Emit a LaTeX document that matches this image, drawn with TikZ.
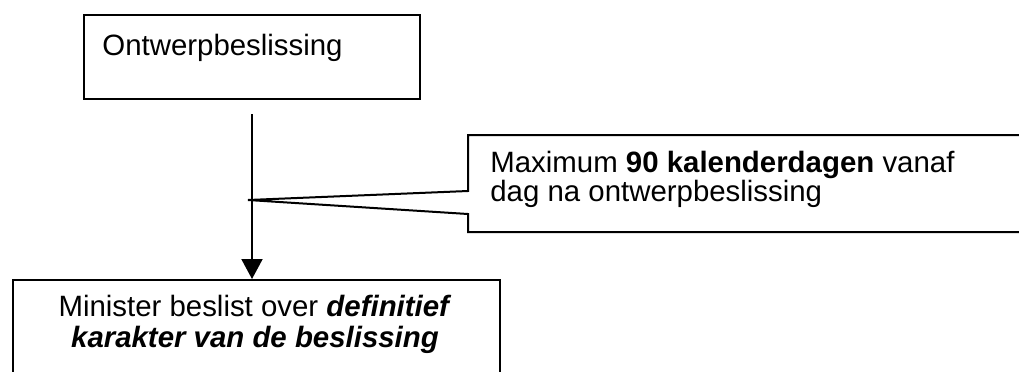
\documentclass[tikz,border=0pt]{standalone}
\usepackage{fontspec}
\setmainfont{Liberation Sans}
\usetikzlibrary{arrows.meta}
\tikzset{
  box/.style={draw, line width=1pt, inner sep=0pt},
  txt/.style={inner sep=0pt},
  flow/.style={line width=1pt, -{Triangle[length=10pt,width=10.5pt]}, shorten <=7pt}
}
\begin{document}
\begin{tikzpicture}[x=0.5pt,y=-0.5pt]
\useasboundingbox (0,0) rectangle (1019,371);
\clip (0,0) rectangle (1019,371);
{\fontsize{14.7}{15}\selectfont

% Drawing box Ontwerpbeslissing
\node[box, anchor=north west, minimum width=168pt, minimum height=42pt] (ontwerp) at (83,14) {};
\node[txt, anchor=base west] (ontwerptxt) at (102,55) {Ontwerpbeslissing};

% Drawing box Minister (cut off at the bottom)
\node[box, anchor=north west, minimum width=243.5pt, minimum height=60pt] (minister) at (12,279) {};
\node[txt, anchor=base] (ministera) at (255,316) {Minister beslist over \textbf{\textit{definitief}}};
\node[txt, anchor=base] (ministerb) at (255,347) {\textbf{\textit{karakter van de beslissing}}};

% Drawing arrow
\draw[flow] (ontwerp.south) -- (ontwerp.south |- minister.north);

% Drawing callout
\coordinate (tip) at (248,200);
\draw[line width=1pt] (1030,135) -- (468,135) -- (468,191) -- (tip)
  -- (468,214) -- (468,232) -- (1030,232);
\node[txt, anchor=base west] (termijna) at (490,172) {Maximum \textbf{90 kalenderdagen} vanaf};
\node[txt, anchor=base west] (termijnb) at (490,201) {dag na ontwerpbeslissing};
}
\end{tikzpicture}
\end{document}
